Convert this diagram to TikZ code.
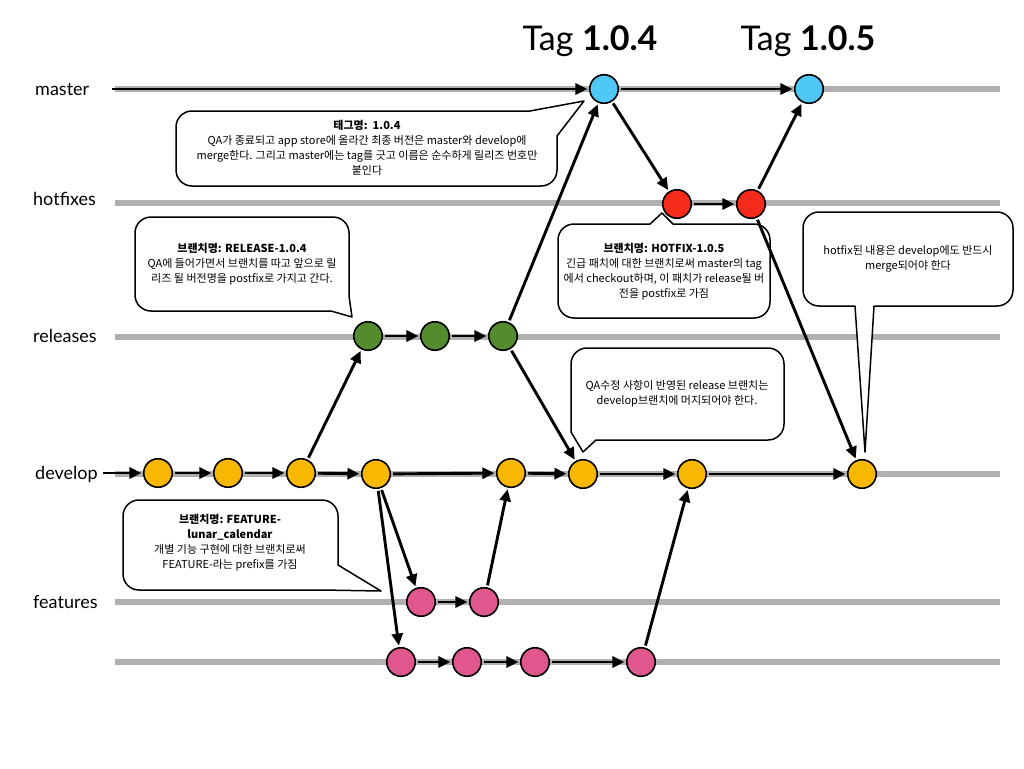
\documentclass[tikz,border=0pt]{standalone}
\usepackage{fontspec}
\setmainfont{Lato}
\newfontfamily\krfont{Noto Sans CJK KR}
\usetikzlibrary{arrows.meta}
\definecolor{mastercol}{HTML}{4FC8F5}
\definecolor{hotcol}{HTML}{F42A1A}
\definecolor{relcol}{HTML}{548B2D}
\definecolor{devcol}{HTML}{F9B800}
\definecolor{featcol}{HTML}{E0578D}
\begin{document}
\begin{tikzpicture}[x=1pt,y=-1pt,
  commit/.style={circle,draw=black,line width=1.6pt,minimum size=28.5pt,inner sep=0pt},
  arr/.style={line width=2.9pt,-{Triangle[length=12pt,width=11pt]},shorten <=2pt,shorten >=1.5pt},
  band/.style={line width=5.5pt,draw=gray!62},
  lbl/.style={font=\fontsize{18}{20}\selectfont,anchor=base west,inner sep=0pt},
  tagtxt/.style={font=\fontsize{34}{38}\selectfont,anchor=base,inner sep=0pt},
  callout/.style={draw=black,fill=white,line width=1.5pt,line join=round},
  notetext/.style={align=center,inner sep=0pt,font=\krfont\fontsize{11}{15}\selectfont}
]
\useasboundingbox (0,0) rectangle (1024,768);

% gray branch bands
\foreach \yy in {89,203,337,474,602,662} {
  \draw[band] (115,\yy) -- (1000,\yy);
}

% branch labels
\node[lbl] (lmaster) at (35,95) {master};
\node[lbl] (lhot) at (33,205) {hotfixes};
\node[lbl] (lrel) at (33,342) {releases};
\node[lbl] (ldev) at (35,479) {develop};
\node[lbl] (lfeat) at (33,608) {features};

% tags
\node[tagtxt] (tag4) at (590,50) {Tag \textbf{1.0.4}};
\node[tagtxt] (tag5) at (808,50) {Tag \textbf{1.0.5}};

% callouts
\draw[callout] (192,111) -- (530,111) -- (584,101) -- (557,136) -- (557,170)
  arc[start angle=0,end angle=90,radius=16] -- (192,186)
  arc[start angle=90,end angle=180,radius=16] -- (176,127)
  arc[start angle=180,end angle=270,radius=16] -- cycle;
\node[notetext] (tagnote) at (367,148) {{\bfseries 태그명:\ \ 1.0.4}\\
QA가 종료되고 app store에 올라간 최종 버전은 master와 develop에\\
merge한다. 그리고 master에는 tag를 긋고 이름은 순수하게 릴리즈 번호만\\
붙인다};

\draw[callout] (151,217) -- (333,217)
  arc[start angle=-90,end angle=0,radius=16] -- (349,296) -- (352,317) -- (331,311) -- (151,311)
  arc[start angle=90,end angle=180,radius=16] -- (135,233)
  arc[start angle=180,end angle=270,radius=16] -- cycle;
\node[notetext] (relnote) at (242,264) {{\bfseries 브랜치명: RELEASE-1.0.4}\\
QA에 들어가면서 브랜치를 따고 앞으로 릴\\
리즈 될 버전명을 postfix로 가지고 간다.};

\draw[callout] (574,224) -- (650,224) -- (662,213) -- (673,224) -- (754,224)
  arc[start angle=-90,end angle=0,radius=16] -- (770,302)
  arc[start angle=0,end angle=90,radius=16] -- (574,318)
  arc[start angle=90,end angle=180,radius=16] -- (558,240)
  arc[start angle=180,end angle=270,radius=16] -- cycle;
\node[notetext] (hotnote) at (664,272) {{\bfseries 브랜치명: HOTFIX-1.0.5}\\
긴급 패치에 대한 브랜치로써 master의 tag\\
에서 checkout하며, 이 패치가 release될 버\\
전을 postfix로 가짐};

\draw[callout] (819,212) -- (997,212)
  arc[start angle=-90,end angle=0,radius=16] -- (1013,290)
  arc[start angle=0,end angle=90,radius=16] -- (874,306) -- (865,452) -- (855,306) -- (819,306)
  arc[start angle=90,end angle=180,radius=16] -- (803,228)
  arc[start angle=180,end angle=270,radius=16] -- cycle;
\node[notetext] (hdnote) at (908,259) {hotfix된 내용은 develop에도 반드시\\merge되어야 한다};

\draw[callout] (587,348) -- (768,348)
  arc[start angle=-90,end angle=0,radius=16] -- (784,424)
  arc[start angle=0,end angle=90,radius=16] -- (596,440) -- (583,452) -- (571,432) -- (571,364)
  arc[start angle=180,end angle=270,radius=16] -- cycle;
\node[notetext] (qanote) at (677,394) {QA수정 사항이 반영된 release 브랜치는\\develop브랜치에 머지되어야 한다.};

\draw[callout] (139,500) -- (322,500)
  arc[start angle=-90,end angle=0,radius=16] -- (338,565) -- (381,591) -- (322,590) -- (139,590)
  arc[start angle=90,end angle=180,radius=16] -- (123,516)
  arc[start angle=180,end angle=270,radius=16] -- cycle;
\node[notetext] (featnote) at (230,543) {{\bfseries 브랜치명: FEATURE-}\\
{\bfseries lunar\_calendar}\\
개별 기능 구현에 대한 브랜치로써\\
FEATURE-라는 prefix를 가짐};

% commits
\node[commit,fill=mastercol] (m1) at (604,89) {};
\node[commit,fill=mastercol] (m2) at (809,89) {};
\node[commit,fill=hotcol] (h1) at (677,204) {};
\node[commit,fill=hotcol] (h2) at (751,204) {};
\node[commit,fill=relcol] (r1) at (368,336) {};
\node[commit,fill=relcol] (r2) at (435,336) {};
\node[commit,fill=relcol] (r3) at (503,336) {};
\node[commit,fill=devcol] (d1) at (158,473) {};
\node[commit,fill=devcol] (d2) at (228,473) {};
\node[commit,fill=devcol] (d3) at (301,473) {};
\node[commit,fill=devcol] (d4) at (376,474) {};
\node[commit,fill=devcol] (d5) at (511,473) {};
\node[commit,fill=devcol] (d6) at (583,474) {};
\node[commit,fill=devcol] (d7) at (692,474) {};
\node[commit,fill=devcol] (d8) at (862,474) {};
\node[commit,fill=featcol] (f1) at (421,602) {};
\node[commit,fill=featcol] (f2) at (484,602) {};
\node[commit,fill=featcol] (g1) at (401,662) {};
\node[commit,fill=featcol] (g2) at (467,662) {};
\node[commit,fill=featcol] (g3) at (535,662) {};
\node[commit,fill=featcol] (g4) at (641,662) {};

% connectors
\coordinate (mstart) at (112,89);
\coordinate (dstart) at (103,473);
\draw[arr,shorten <=0pt] (mstart) -- (m1);
\draw[arr] (m1) -- (m2);
\draw[arr] (m1) -- (h1);
\draw[arr] (h1) -- (h2);
\draw[arr] (h2) -- (m2);
\draw[arr] (h2) -- (d8);
\draw[arr] (r1) -- (r2);
\draw[arr] (r2) -- (r3);
\draw[arr] (r3) -- (m1);
\draw[arr] (r3) -- (d6);
\draw[arr] (d3) -- (r1);
\draw[arr,shorten <=0pt] (dstart) -- (d1);
\draw[arr] (d1) -- (d2);
\draw[arr] (d2) -- (d3);
\draw[arr] (d3) -- (d4);
\draw[arr] (d4) -- (d5);
\draw[arr] (d5) -- (d6);
\draw[arr] (d6) -- (d7);
\draw[arr] (d7) -- (d8);
\draw[arr] (d4) -- (f1);
\draw[arr] (d4) -- (g1);
\draw[arr] (f1) -- (f2);
\draw[arr] (f2) -- (d5);
\draw[arr] (g1) -- (g2);
\draw[arr] (g2) -- (g3);
\draw[arr] (g3) -- (g4);
\draw[arr] (g4) -- (d7);
\end{tikzpicture}
\end{document}
